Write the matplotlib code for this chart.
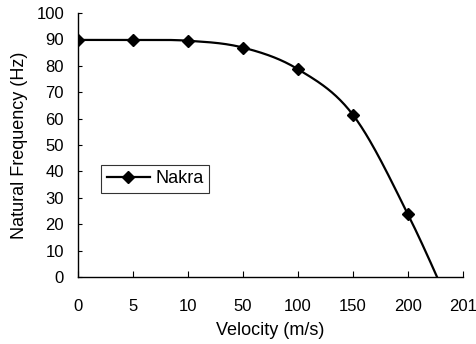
import numpy as np
import matplotlib
matplotlib.use("Agg")
import matplotlib.pyplot as plt
from matplotlib.lines import Line2D

plt.rcParams['font.family'] = ['Liberation Sans', 'DejaVu Sans']

velocity_labels = ["0", "5", "10", "50", "100", "150", "200", "201"]
frequency = [89.8, 89.8, 89.5, 86.9, 78.7, 61.4, 23.7, -22.0]
series_name = "Nakra"

x = np.arange(len(frequency), dtype=float)
y = np.array(frequency, dtype=float)

# Catmull-Rom smoothing of the line (like a spreadsheet "smoothed line")
def smooth(xp, yp, n=40):
    px = np.concatenate([[2*xp[0]-xp[1]], xp, [2*xp[-1]-xp[-2]]])
    py = np.concatenate([[2*yp[0]-yp[1]], yp, [2*yp[-1]-yp[-2]]])
    xs, ys = [], []
    for i in range(1, len(px) - 2):
        t = np.linspace(0, 1, n)
        for arr, out in ((px, xs), (py, ys)):
            p0, p1, p2, p3 = arr[i-1], arr[i], arr[i+1], arr[i+2]
            out.append(0.5*((2*p1) + (-p0+p2)*t + (2*p0-5*p1+4*p2-p3)*t**2 + (-p0+3*p1-3*p2+p3)*t**3))
    return np.concatenate(xs), np.concatenate(ys)

sx, sy = smooth(x, y)

fig = plt.figure(figsize=(4.77, 3.44), dpi=100)
ax = fig.add_axes([0.1635, 0.1948, 0.8071, 0.7674])
ax.plot(sx, sy, color='black', lw=1.6, solid_capstyle='butt')
ax.plot(x, y, linestyle='none', marker='D', ms=6, color='black')

ax.set_xlim(0, 7)
ax.set_ylim(0, 100)
ax.set_xticks(x)
ax.set_xticklabels(velocity_labels)
ax.set_yticks(np.arange(0, 101, 10))
for s in ('top', 'right'):
    ax.spines[s].set_visible(False)
for s in ('left', 'bottom'):
    ax.spines[s].set_linewidth(1.0)
ax.tick_params(axis='x', direction='in', length=4, pad=15.5, labelsize=12)
ax.tick_params(axis='y', direction='in', length=3, pad=10, labelsize=12)

ax.set_xlabel("Velocity (m/s)", fontsize=13, labelpad=6)
ax.set_ylabel("Natural Frequency (Hz)", fontsize=13, labelpad=6)

handle = Line2D([], [], color='black', lw=1.6, marker='D', ms=6)
leg = ax.legend([handle], [series_name], loc='upper left',
                bbox_to_anchor=(0.06, 0.425), fontsize=13, frameon=True,
                fancybox=False, edgecolor='black', handlelength=2.4,
                borderpad=0.3, handletextpad=0.3, borderaxespad=0.0)
leg.get_frame().set_linewidth(0.8)

fig.savefig("out.png", dpi=100)
